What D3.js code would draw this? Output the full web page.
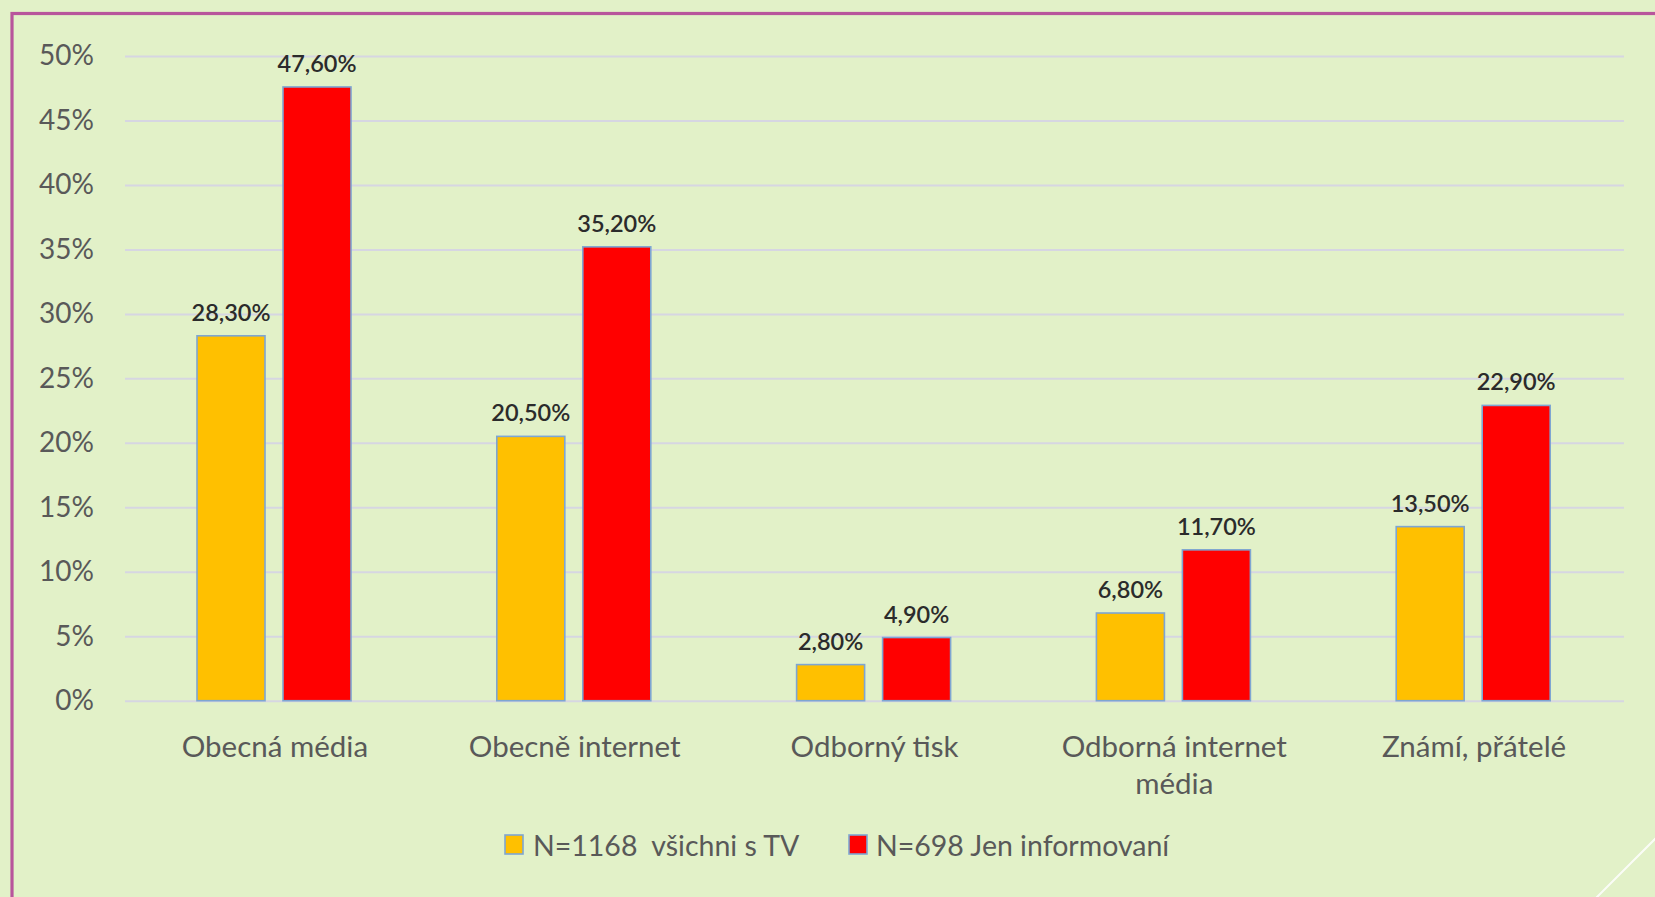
<!DOCTYPE html>
<html>
<head>
<meta charset="utf-8">
<script src="https://cdn.jsdelivr.net/npm/d3@7"></script>
<style>
  html, body { margin: 0; padding: 0; background: #e2f1c8; }
  svg { display: block; }
  text { font-family: Lato, "Open Sans", sans-serif; }
</style>
</head>
<body>
<svg id="chart" width="1655" height="897"></svg>
<script>
// ---- data ----
const categories = ["Obecná média", "Obecně internet", "Odborný tisk", "Odborná internet média", "Známí, přátelé"];
const seriesNames = ["N=1168  všichni s TV", "N=698 Jen informovaní"];
const seriesAll = [0.283, 0.205, 0.028, 0.068, 0.135];
const seriesInformed = [0.476, 0.352, 0.049, 0.117, 0.229];
const valueLabelsAll = ["28,30%", "20,50%", "2,80%", "6,80%", "13,50%"];
const valueLabelsInformed = ["47,60%", "35,20%", "4,90%", "11,70%", "22,90%"];
const yTickValues = [0, 0.05, 0.10, 0.15, 0.20, 0.25, 0.30, 0.35, 0.40, 0.45, 0.50];
const yTickLabels = ["0%", "5%", "10%", "15%", "20%", "25%", "30%", "35%", "40%", "45%", "50%"];
const seriesColors = ["#ffc000", "#ff0000"];

// ---- layout ----
const W = 1655, H = 897;
const plotLeft = 125, plotRight = 1624, plotTop = 56, plotBottom = 700.7;

const svg = d3.select("#chart");

svg.append("rect").attr("x", 0).attr("y", 0).attr("width", W).attr("height", H).attr("fill", "#e2f1c8");

// frame
svg.append("rect")
  .attr("x", 12).attr("y", 13.5).attr("width", 1800).attr("height", 1200)
  .attr("fill", "none").attr("stroke", "#b8559c").attr("stroke-width", 3.2);

// decorative diagonal
svg.append("line")
  .attr("x1", 1595).attr("y1", 899).attr("x2", 1660).attr("y2", 834)
  .attr("stroke", "#ffffff").attr("stroke-width", 2).attr("opacity", 0.85);

const x0 = d3.scaleBand().domain(categories).range([plotLeft, plotRight]).padding(0);
const x1 = d3.scaleBand().domain([0, 1]).range([72, 226]).paddingInner(18 / 86).paddingOuter(0);
const y = d3.scaleLinear().domain([0, 0.5]).range([plotBottom, plotTop]);

// y axis with gridlines
const yAxis = d3.axisLeft(y)
  .tickValues(yTickValues)
  .tickFormat((d, i) => yTickLabels[i])
  .tickSize(-(plotRight - plotLeft))
  .tickPadding(31);

const gy = svg.append("g").attr("transform", `translate(${plotLeft},0)`).call(yAxis);
gy.select(".domain").remove();
gy.selectAll(".tick line").attr("stroke", "#d6d6e2").attr("stroke-width", 2);
gy.selectAll(".tick text")
  .attr("fill", "#595959")
  .style("font-size", "28px")
  .style("font-family", "Lato, 'Open Sans', sans-serif");

// bars
const seriesData = [seriesAll, seriesInformed];
const seriesLabels = [valueLabelsAll, valueLabelsInformed];

seriesData.forEach((vals, s) => {
  const g = svg.append("g");
  g.selectAll("rect")
    .data(vals)
    .join("rect")
    .attr("x", (d, i) => x0(categories[i]) + x1(s))
    .attr("y", d => y(d))
    .attr("width", x1.bandwidth())
    .attr("height", d => y(0) - y(d))
    .attr("fill", seriesColors[s])
    .attr("stroke", "#7ea6d2")
    .attr("stroke-width", 1.6);

  g.selectAll("text")
    .data(vals)
    .join("text")
    .attr("x", (d, i) => x0(categories[i]) + x1(s) + x1.bandwidth() / 2)
    .attr("y", d => y(d) - 15)
    .attr("text-anchor", "middle")
    .attr("fill", "#2b2b2b")
    .style("font-size", "23.5px")
    .style("font-weight", "600")
    .text((d, i) => seriesLabels[s][i]);
});

// category labels (wrapped)
function wrapWords(text, maxW, fontSize) {
  const tmp = svg.append("text").style("font-size", fontSize + "px");
  const words = text.split(" ");
  const lines = [];
  let cur = "";
  words.forEach(w => {
    const t = cur ? cur + " " + w : w;
    tmp.text(t);
    if (tmp.node().getComputedTextLength() > maxW && cur) {
      lines.push(cur);
      cur = w;
    } else cur = t;
  });
  if (cur) lines.push(cur);
  tmp.remove();
  return lines;
}

const catG = svg.append("g");
categories.forEach(c => {
  const lines = wrapWords(c, 265, 29.5);
  const t = catG.append("text")
    .attr("x", x0(c) + x0.bandwidth() / 2)
    .attr("y", 757)
    .attr("text-anchor", "middle")
    .attr("fill", "#595959")
    .style("font-size", "29.5px");
  lines.forEach((l, i) => {
    t.append("tspan")
      .attr("x", x0(c) + x0.bandwidth() / 2)
      .attr("dy", i === 0 ? 0 : 37)
      .text(l);
  });
});

// legend
const legendItems = [
  { sx: 505, tx: 533 },
  { sx: 849, tx: 876 }
];
const lg = svg.append("g");
seriesNames.forEach((n, i) => {
  lg.append("rect")
    .attr("x", legendItems[i].sx).attr("y", 835)
    .attr("width", 18).attr("height", 19)
    .attr("fill", seriesColors[i])
    .attr("stroke", "#7ea6d2").attr("stroke-width", 1.6);
  lg.append("text")
    .attr("x", legendItems[i].tx).attr("y", 856)
    .attr("fill", "#595959")
    .style("font-size", "28.5px")
    .style("white-space", "pre")
    .attr("xml:space", "preserve")
    .text(n);
});
</script>
</body>
</html>
